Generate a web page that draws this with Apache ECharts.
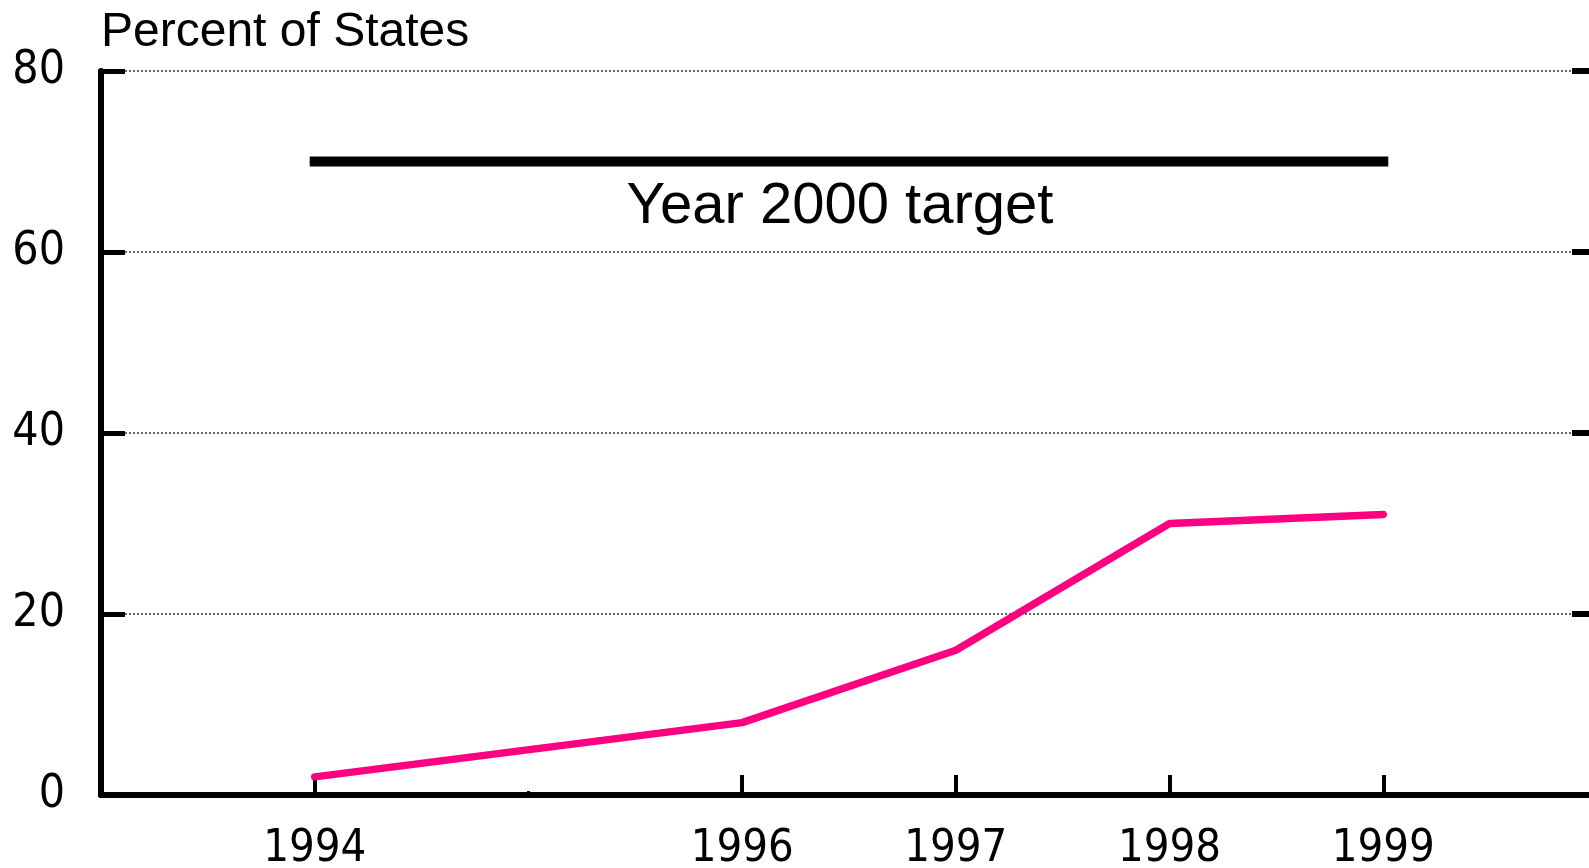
<!DOCTYPE html>
<html>
<head>
<meta charset="utf-8">
<style>
html,body{margin:0;padding:0;background:#fff;}
#chart{width:1589px;height:868px;}
</style>
<script src="https://cdn.jsdelivr.net/npm/echarts@6/dist/echarts.min.js"></script>
</head>
<body>
<div id="chart"></div>
<script>
// Data
const years = [1994, 1996, 1997, 1998, 1999];
const percentStates = [2, 8, 16, 30, 31];
const targetYears = [1994, 1999];
const targetValue = 70;
const targetLabel = 'Year 2000 target';
const xLabelYears = [1994, 1996, 1997, 1998, 1999];
const minorTickYears = [1995];
const yTicks = [0, 20, 40, 60, 80];
const yTitle = 'Percent of States';

const chart = echarts.init(document.getElementById('chart'));
const narrow = '"Liberation Sans Narrow", "DejaVu Sans Condensed", "Liberation Sans", sans-serif';
const regular = '"Liberation Sans", Arial, sans-serif';

chart.setOption({
  animation: false,
  backgroundColor: '#ffffff',
  title: {
    text: yTitle,
    left: 96, top: 4,
    textStyle: {fontFamily: regular, fontSize: 48, fontWeight: 'normal', color: '#000'}
  },
  grid: {left: 101, right: -8, top: 71, bottom: 73, containLabel: false, outerBoundsMode: 'none'},
  xAxis: [{
    type: 'value', min: 1993, max: 2000, interval: 1,
    axisLine: {show: true, lineStyle: {color: '#000', width: 6}},
    axisTick: {show: true, inside: true, length: 20, lineStyle: {color: '#000', width: 4},
      customValues: xLabelYears},
    axisLabel: {show: true, customValues: xLabelYears, margin: 32,
      fontFamily: narrow, fontSize: 45, color: '#000',
      formatter: v => String(v)},
    splitLine: {show: false}
  }, {
    type: 'value', min: 1993, max: 2000, interval: 1, position: 'bottom',
    axisLine: {show: false},
    axisTick: {show: true, inside: true, length: 4, lineStyle: {color: '#000', width: 3},
      customValues: minorTickYears},
    axisLabel: {show: false},
    splitLine: {show: false}
  }],
  yAxis: [{
    type: 'value', min: 0, max: 80, interval: 20,
    axisLine: {show: true, lineStyle: {color: '#000', width: 6}},
    axisTick: {show: true, inside: true, length: 24, lineStyle: {color: '#000', width: 5}},
    axisLabel: {show: true, margin: 36, fontFamily: narrow, fontSize: 46, color: '#000',
      customValues: yTicks},
    splitLine: {show: true, lineStyle: {color: '#333', width: 1.5, type: [2, 2]}}
  }, {
    type: 'value', min: 0, max: 80, interval: 20, position: 'right',
    axisLine: {show: false},
    axisTick: {show: true, inside: true, length: 25, lineStyle: {color: '#000', width: 6}},
    axisLabel: {show: false},
    splitLine: {show: false}
  }],
  series: [{
    type: 'line',
    data: years.map((y, i) => [y, percentStates[i]]),
    symbol: 'none',
    lineStyle: {color: '#FF0080', width: 7.5, cap: 'round', join: 'round'},
    z: 5
  }, {
    type: 'line',
    data: targetYears.map(y => [y, targetValue]),
    symbol: 'none',
    lineStyle: {color: '#000', width: 10, cap: 'square'},
    z: 4
  }, {
    type: 'scatter',
    data: [[(targetYears[0] + targetYears[1]) / 2, targetValue]],
    symbolSize: 0,
    itemStyle: {opacity: 1},
    label: {show: true, position: 'bottom', distance: 16, offset: [-9, 0], formatter: targetLabel,
      fontFamily: regular, fontSize: 58, color: '#000', opacity: 1},
    z: 4
  }]
});
</script>
</body>
</html>
